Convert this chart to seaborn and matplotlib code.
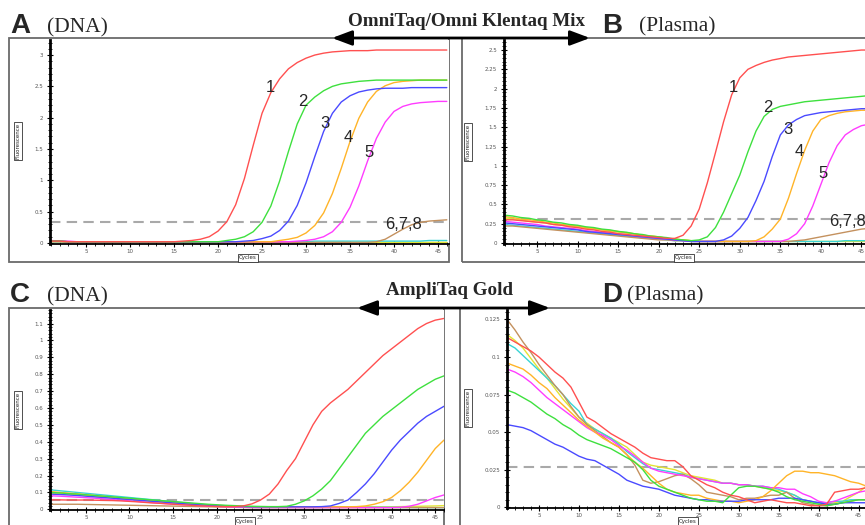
import matplotlib
matplotlib.use("Agg")
import matplotlib.pyplot as plt
from matplotlib.patches import Rectangle, FancyArrowPatch
import pandas as pd
import seaborn as sns

W, H = 865, 525
cycles = list(range(1, 47))
curve_order = ["yellow", "cyan", "brown", "magenta", "orange", "blue", "green", "red"]
palette = {"red": "#ff5050", "green": "#3ee03e", "blue": "#4a4aff", "orange": "#ffb428",
           "magenta": "#ff3cff", "brown": "#c4915e", "cyan": "#38d4d4", "yellow": "#e4e434"}
x_ticks = [5, 10, 15, 20, 25, 30, 35, 40, 45]
x_labels = ["5", "10", "15", "20", "25", "30", "35", "40", "45"]

# ---------------- Panel A (DNA, OmniTaq) ----------------
a_red = [0.03,0.03,0.02,0.02,0.02,0.02,0.02,0.02,0.02,0.02, 0.02,0.02,0.02,0.02,0.02,0.03,0.04,0.06,0.10,0.19,
         0.34,0.61,1.03,1.56,2.07,2.40,2.62,2.78,2.88,2.95, 3.00,3.03,3.05,3.06,3.07,3.07,3.07,3.08,3.08,3.08,
         3.08,3.08,3.08,3.08,3.08,3.08]
a_green = [0.03,0.03,0.02,0.02,0.02,0.02,0.02,0.02,0.02,0.02, 0.02,0.02,0.02,0.02,0.02,0.02,0.02,0.02,0.02,0.02,
           0.04,0.06,0.10,0.18,0.33,0.59,0.99,1.46,1.90,2.20, 2.33,2.43,2.50,2.54,2.56,2.58,2.59,2.60,2.60,2.60,
           2.60,2.60,2.60,2.60,2.60,2.60]
a_blue = [0.03,0.03,0.02,0.02,0.02,0.02,0.02,0.02,0.02,0.02, 0.02,0.02,0.02,0.02,0.02,0.02,0.02,0.02,0.02,0.02,
          0.02,0.02,0.03,0.04,0.07,0.11,0.20,0.35,0.60,0.96, 1.38,1.78,2.07,2.25,2.35,2.41,2.44,2.46,2.47,2.47,
          2.47,2.48,2.48,2.48,2.48,2.48]
a_orange = [0.03,0.03,0.02,0.02,0.02,0.02,0.02,0.02,0.02,0.02, 0.02,0.02,0.02,0.02,0.02,0.02,0.02,0.02,0.02,0.02,
            0.02,0.02,0.02,0.02,0.02,0.02,0.04,0.06,0.09,0.16, 0.28,0.48,0.79,1.19,1.62,1.99,2.25,2.42,2.51,2.56,
            2.58,2.59,2.60,2.60,2.60,2.60]
a_magenta = [0.04,0.03,0.03,0.02,0.02,0.02,0.02,0.02,0.02,0.02, 0.02,0.02,0.02,0.02,0.02,0.02,0.02,0.02,0.02,0.02,
             0.02,0.02,0.02,0.02,0.02,0.02,0.02,0.02,0.03,0.04, 0.06,0.10,0.18,0.33,0.57,0.91,1.31,1.67,1.93,2.10,
             2.18,2.22,2.24,2.25,2.26,2.26]
a_brown = [0.02,0.02,0.01,0.01,0.01,0.01,0.01,0.01,0.01,0.01, 0.01,0.01,0.01,0.01,0.01,0.01,0.01,0.01,0.01,0.01,
           0.01,0.01,0.01,0.01,0.01,0.01,0.01,0.01,0.01,0.01, 0.01,0.01,0.01,0.01,0.01,0.01,0.01,0.02,0.06,0.14,
           0.22,0.29,0.33,0.35,0.36,0.37]
a_cyan = [0.02,0.02,0.02,0.02,0.02,0.02,0.02,0.02,0.02,0.02, 0.02,0.02,0.02,0.02,0.02,0.02,0.02,0.02,0.02,0.02,
          0.02,0.02,0.02,0.02,0.02,0.02,0.02,0.02,0.02,0.02, 0.03,0.03,0.03,0.03,0.03,0.03,0.03,0.03,0.03,0.03,
          0.03,0.03,0.03,0.04,0.04,0.04]
a_yellow = [0.02,0.02,0.01,0.01,0.01,0.01,0.01,0.01,0.01,0.01, 0.01,0.01,0.01,0.01,0.01,0.01,0.01,0.01,0.01,0.01,
            0.01,0.01,0.01,0.01,0.01,0.01,0.01,0.01,0.01,0.01, 0.01,0.01,0.01,0.01,0.01,0.01,0.01,0.01,0.01,0.01,
            0.01,0.01,0.01,0.01,0.01,0.01]

# ---------------- Panel B (Plasma, OmniTaq) ----------------
b_red = [0.30,0.30,0.29,0.28,0.27,0.26,0.24,0.23,0.21,0.20, 0.18,0.17,0.15,0.14,0.12,0.11,0.10,0.09,0.08,0.07,
         0.06,0.06,0.10,0.22,0.44,0.78,1.17,1.57,1.92,2.14, 2.25,2.30,2.34,2.37,2.39,2.41,2.42,2.43,2.44,2.45,
         2.46,2.47,2.48,2.49,2.50,2.50]
b_green = [0.36,0.35,0.33,0.32,0.30,0.29,0.27,0.26,0.24,0.23, 0.21,0.20,0.18,0.17,0.15,0.14,0.12,0.11,0.09,0.08,
           0.07,0.05,0.04,0.03,0.04,0.08,0.20,0.40,0.64,0.88, 1.18,1.45,1.64,1.73,1.77,1.79,1.81,1.83,1.84,1.85,
           1.86,1.87,1.88,1.89,1.90,1.91]
b_blue = [0.26,0.25,0.24,0.23,0.22,0.21,0.20,0.19,0.18,0.17, 0.15,0.14,0.13,0.12,0.11,0.10,0.09,0.08,0.07,0.06,
          0.05,0.04,0.03,0.02,0.02,0.02,0.02,0.04,0.09,0.19, 0.33,0.55,0.80,1.12,1.40,1.53,1.60,1.65,1.67,1.69,
          1.70,1.71,1.72,1.73,1.74,1.74]
b_orange = [0.34,0.33,0.31,0.30,0.29,0.27,0.26,0.24,0.23,0.22, 0.20,0.19,0.17,0.16,0.15,0.13,0.12,0.10,0.09,0.08,
            0.06,0.05,0.04,0.03,0.02,0.02,0.02,0.02,0.02,0.02, 0.02,0.03,0.08,0.18,0.31,0.58,0.90,1.20,1.45,1.60,
            1.65,1.68,1.70,1.71,1.72,1.72]
b_magenta = [0.28,0.27,0.26,0.25,0.24,0.22,0.21,0.20,0.19,0.18, 0.16,0.15,0.14,0.13,0.12,0.11,0.09,0.08,0.07,0.06,
             0.05,0.04,0.03,0.02,0.02,0.02,0.02,0.02,0.02,0.02, 0.02,0.02,0.02,0.02,0.02,0.05,0.12,0.25,0.48,0.76,
             1.04,1.26,1.40,1.47,1.52,1.54]
b_brown = [0.22,0.22,0.21,0.20,0.19,0.18,0.17,0.16,0.15,0.14, 0.13,0.12,0.11,0.10,0.09,0.08,0.07,0.06,0.05,0.04,
           0.04,0.03,0.03,0.02,0.02,0.02,0.02,0.02,0.02,0.02, 0.02,0.02,0.02,0.02,0.02,0.02,0.03,0.04,0.06,0.08,
           0.10,0.12,0.14,0.16,0.18,0.19]
b_cyan = [0.24,0.23,0.22,0.21,0.20,0.19,0.18,0.17,0.16,0.15, 0.14,0.13,0.12,0.11,0.10,0.09,0.08,0.07,0.06,0.05,
          0.04,0.03,0.03,0.02,0.02,0.02,0.02,0.02,0.02,0.02, 0.02,0.02,0.02,0.02,0.02,0.02,0.02,0.02,0.02,0.02,
          0.02,0.02,0.03,0.03,0.03,0.03]
b_yellow = [0.32,0.31,0.30,0.28,0.27,0.26,0.24,0.23,0.22,0.21, 0.19,0.18,0.17,0.15,0.14,0.13,0.12,0.10,0.09,0.08,
            0.06,0.05,0.04,0.03,0.02,0.02,0.02,0.02,0.02,0.02, 0.02,0.02,0.02,0.02,0.02,0.02,0.02,0.02,0.02,0.02,
            0.02,0.02,0.02,0.02,0.02,0.02]

# ---------------- Panel C (DNA, AmpliTaq Gold) ----------------
c_red = [0.056,0.056,0.055,0.055,0.055,0.054,0.053,0.052,0.050,0.047, 0.044,0.040,0.037,0.034,0.030,0.027,0.024,0.021,0.019,0.017,
         0.016,0.016,0.020,0.032,0.055,0.09,0.15,0.23,0.30,0.40, 0.50,0.58,0.63,0.67,0.71,0.76,0.81,0.86,0.91,0.95,
         0.99,1.03,1.07,1.10,1.12,1.13]
c_green = [0.100,0.097,0.093,0.090,0.086,0.082,0.078,0.074,0.070,0.066, 0.062,0.058,0.054,0.050,0.046,0.042,0.038,0.034,0.030,0.027,
           0.024,0.022,0.020,0.018,0.017,0.016,0.016,0.018,0.030,0.050, 0.08,0.12,0.17,0.24,0.31,0.38,0.45,0.50,0.55,0.59,
           0.63,0.67,0.71,0.74,0.77,0.79]
c_blue = [0.090,0.088,0.085,0.082,0.078,0.074,0.070,0.066,0.062,0.058, 0.054,0.050,0.046,0.042,0.038,0.034,0.030,0.027,0.024,0.021,
          0.019,0.017,0.016,0.015,0.015,0.015,0.015,0.015,0.015,0.015, 0.015,0.016,0.020,0.035,0.055,0.10,0.15,0.21,0.28,0.35,
          0.41,0.46,0.51,0.55,0.58,0.61]
c_orange = [0.105,0.100,0.096,0.092,0.087,0.082,0.077,0.072,0.067,0.062, 0.057,0.052,0.047,0.043,0.039,0.035,0.031,0.027,0.024,0.021,
            0.019,0.017,0.016,0.015,0.015,0.015,0.015,0.015,0.015,0.015, 0.015,0.015,0.015,0.015,0.015,0.016,0.020,0.030,0.045,0.07,
            0.11,0.16,0.22,0.29,0.36,0.41]
c_magenta = [0.080,0.078,0.075,0.072,0.069,0.066,0.062,0.058,0.054,0.050, 0.046,0.042,0.038,0.034,0.031,0.028,0.025,0.022,0.019,0.017,
             0.015,0.013,0.012,0.011,0.010,0.010,0.010,0.010,0.010,0.010, 0.010,0.010,0.010,0.010,0.010,0.010,0.010,0.010,0.010,0.010,
             0.012,0.018,0.030,0.050,0.070,0.085]
c_brown = [0.030,0.030,0.030,0.030,0.029,0.028,0.027,0.026,0.025,0.024, 0.023,0.022,0.021,0.020,0.019,0.018,0.017,0.016,0.015,0.014,
           0.013,0.012,0.011,0.010,0.010,0.010,0.010,0.010,0.010,0.010, 0.010,0.010,0.010,0.010,0.010,0.010,0.010,0.010,0.010,0.010,
           0.010,0.010,0.010,0.010,0.010,0.010]
c_cyan = [0.115,0.110,0.105,0.100,0.095,0.090,0.085,0.080,0.075,0.070, 0.065,0.060,0.055,0.050,0.045,0.040,0.035,0.030,0.025,0.020,
          0.018,0.016,0.014,0.013,0.012,0.012,0.012,0.012,0.012,0.012, 0.012,0.012,0.012,0.012,0.012,0.012,0.012,0.012,0.012,0.012,
          0.011,0.011,0.010,0.010,0.010,0.010]
c_yellow = [0.095,0.092,0.089,0.085,0.081,0.077,0.073,0.069,0.065,0.061, 0.057,0.053,0.049,0.045,0.041,0.037,0.033,0.030,0.027,0.024,
            0.021,0.019,0.017,0.016,0.015,0.015,0.015,0.015,0.015,0.015, 0.015,0.015,0.015,0.015,0.015,0.015,0.015,0.015,0.015,0.015,
            0.016,0.017,0.018,0.019,0.020,0.022]

# ---------------- Panel D (Plasma, AmpliTaq Gold) ----------------
d_brown = [0.125,0.118,0.110,0.103,0.095,0.088,0.081,0.075,0.067,0.060, 0.055,0.051,0.047,0.043,0.040,0.035,0.028,0.018,0.016,0.017,
           0.019,0.021,0.022,0.019,0.015,0.010,0.009,0.008,0.007,0.005, 0.006,0.006,0.007,0.008,0.008,0.010,0.006,0.003,0.002,0.001,
           0.001,0.002,0.003,0.004,0.005,0.005]
d_red = [0.113,0.110,0.107,0.104,0.100,0.095,0.090,0.086,0.080,0.070, 0.060,0.057,0.053,0.049,0.046,0.043,0.040,0.036,0.033,0.032,
         0.031,0.031,0.027,0.021,0.018,0.015,0.013,0.010,0.008,0.007, 0.005,0.003,0.004,0.005,0.004,0.003,0.003,0.002,0.001,0.001,
         0.002,0.010,0.011,0.012,0.012,0.013]
d_yellow = [0.115,0.111,0.106,0.099,0.092,0.086,0.079,0.072,0.066,0.060, 0.056,0.052,0.049,0.046,0.043,0.040,0.035,0.030,0.028,0.027,
            0.026,0.025,0.023,0.021,0.020,0.019,0.018,0.016,0.016,0.015, 0.015,0.014,0.013,0.012,0.011,0.010,0.008,0.005,0.004,0.002,
            0.002,0.003,0.004,0.007,0.010,0.014]
d_cyan = [0.109,0.106,0.101,0.096,0.091,0.086,0.081,0.075,0.069,0.064, 0.055,0.052,0.049,0.046,0.042,0.037,0.033,0.029,0.026,0.025,
          0.024,0.023,0.022,0.020,0.019,0.018,0.017,0.016,0.016,0.015, 0.015,0.014,0.014,0.013,0.012,0.010,0.008,0.005,0.004,0.003,
          0.003,0.004,0.004,0.005,0.005,0.005]
d_orange = [0.096,0.094,0.092,0.088,0.083,0.079,0.073,0.068,0.063,0.058, 0.054,0.050,0.046,0.043,0.040,0.035,0.030,0.026,0.021,0.016,
            0.012,0.010,0.009,0.008,0.008,0.006,0.005,0.004,0.004,0.003, 0.004,0.005,0.007,0.011,0.016,0.021,0.024,0.024,0.023,0.023,
            0.022,0.021,0.019,0.017,0.016,0.014]
d_magenta = [0.092,0.090,0.087,0.083,0.078,0.073,0.069,0.065,0.061,0.057, 0.053,0.050,0.048,0.045,0.041,0.038,0.034,0.030,0.026,0.024,
             0.023,0.022,0.021,0.020,0.019,0.018,0.017,0.016,0.016,0.015, 0.015,0.014,0.014,0.013,0.013,0.012,0.012,0.009,0.007,0.004,
             0.003,0.004,0.006,0.008,0.010,0.011]
d_green = [0.078,0.076,0.073,0.070,0.066,0.062,0.059,0.055,0.052,0.048, 0.045,0.043,0.041,0.039,0.036,0.033,0.030,0.025,0.018,0.014,
           0.012,0.010,0.008,0.006,0.005,0.004,0.004,0.003,0.008,0.013, 0.014,0.014,0.013,0.012,0.010,0.007,0.005,0.004,0.003,0.002,
           0.001,0.002,0.003,0.004,0.005,0.005]
d_blue = [0.055,0.054,0.053,0.051,0.048,0.045,0.042,0.040,0.037,0.034, 0.032,0.031,0.028,0.025,0.022,0.018,0.016,0.014,0.013,0.012,
          0.010,0.008,0.007,0.006,0.005,0.005,0.004,0.004,0.004,0.004, 0.005,0.005,0.005,0.005,0.006,0.006,0.006,0.005,0.004,0.003,
          0.002,0.002,0.003,0.003,0.003,0.003]

thresholds = {"A": 0.33, "B": 0.31, "C": 0.055, "D": 0.027}

sns.set_style("white")
plt.rcParams["font.family"] = ["DejaVu Sans"]

fig = plt.figure(figsize=(W / 100, H / 100), dpi=100)
fig.patch.set_facecolor("white")


def fx(px):
    return px / W


def fy(py):
    return 1 - py / H


def make_axes(left, right, top, bottom):
    return fig.add_axes([fx(left), fy(bottom), (right - left) / W, (bottom - top) / H])


def draw_panel(ax, series, xlim, ylim, yticks, ylabels, yminor, thr):
    frames = [pd.DataFrame({"cycle": cycles, "value": vals, "curve": name}) for name, vals in series.items()]
    df = pd.concat(frames, ignore_index=True)
    ax.axhline(thr, color="#a9a9a9", lw=1.5, linestyle=(0, (5, 3)), zorder=1)
    sns.lineplot(data=df, x="cycle", y="value", hue="curve", hue_order=curve_order,
                 palette=palette, estimator=None, sort=True, legend=False,
                 linewidth=1.0, ax=ax, zorder=2)
    ax.set_xlim(*xlim)
    ax.set_ylim(*ylim)
    ax.set_xlabel("")
    ax.set_ylabel("")
    ax.set_facecolor("white")
    ax.set_xticks(x_ticks)
    ax.set_xticklabels(x_labels)
    ax.set_xticks(cycles, minor=True)
    ax.set_yticks(yticks)
    ax.set_yticklabels(ylabels)
    ax.set_yticks(yminor, minor=True)
    for s in ["top", "right"]:
        ax.spines[s].set_visible(False)
    ax.spines["left"].set_color("black")
    ax.spines["left"].set_linewidth(2.0)
    ax.spines["bottom"].set_color("black")
    ax.spines["bottom"].set_linewidth(1.3)
    ax.tick_params(which="major", direction="inout", length=4, width=0.8, color="black",
                   labelsize=4, labelcolor="#555555", pad=3, left=True, bottom=True)
    ax.tick_params(axis="x", which="major", pad=1.5)
    ax.tick_params(which="minor", direction="inout", length=2.2, width=0.6, color="black",
                   left=True, bottom=True)
    ax.grid(False)


def box(x0, y0, x1, y1):
    fig.add_artist(Rectangle((fx(x0), fy(y1)), (x1 - x0) / W, (y1 - y0) / H,
                             transform=fig.transFigure, fill=False, ec="#6a6a6a", lw=1.3, zorder=0))


def boxed_label(x, y, text, rot):
    fig.text(fx(x), fy(y), text, rotation=rot, fontsize=4, ha="center", va="center", color="#222222",
             bbox=dict(boxstyle="square,pad=0.2", fc="white", ec="#333333", lw=0.6))


# panel boxes
box(9, 38, 449, 262)
box(462, 38, 900, 262)
box(9, 308, 444, 540)
box(460, 308, 900, 540)

# Panel A
axA = make_axes(50, 449, 40, 244)
draw_panel(axA, {"red": a_red, "green": a_green, "blue": a_blue, "orange": a_orange,
                 "magenta": a_magenta, "brown": a_brown, "cyan": a_cyan, "yellow": a_yellow},
           (0.9, 46.25), (-0.016, 3.24), [0, 0.5, 1, 1.5, 2, 2.5, 3],
           ["0", "0.5", "1", "1.5", "2", "2.5", "3"], [i * 0.1 for i in range(33)], thresholds["A"])

# Panel B
axB = make_axes(504, 872, 40, 244)
draw_panel(axB, {"red": b_red, "green": b_green, "blue": b_blue, "orange": b_orange,
                 "magenta": b_magenta, "brown": b_brown, "cyan": b_cyan, "yellow": b_yellow},
           (0.93, 46.3), (-0.013, 2.63), [0, 0.25, 0.5, 0.75, 1, 1.25, 1.5, 1.75, 2, 2.25, 2.5],
           ["0", "0.25", "0.5", "0.75", "1", "1.25", "1.5", "1.75", "2", "2.25", "2.5"],
           [i * 0.05 for i in range(53)], thresholds["B"])

# Panel C
axC = make_axes(50, 444, 310, 510)
draw_panel(axC, {"red": c_red, "green": c_green, "blue": c_blue, "orange": c_orange,
                 "magenta": c_magenta, "brown": c_brown, "cyan": c_cyan, "yellow": c_yellow},
           (0.9, 45.8), (-0.004, 1.18), [i / 10 for i in range(12)],
           ["0", "0.1", "0.2", "0.3", "0.4", "0.5", "0.6", "0.7", "0.8", "0.9", "1", "1.1"],
           [i * 0.02 for i in range(60)], thresholds["C"])

# Panel D
axD = make_axes(507, 869, 310, 508)
draw_panel(axD, {"red": d_red, "green": d_green, "blue": d_blue, "orange": d_orange,
                 "magenta": d_magenta, "brown": d_brown, "cyan": d_cyan, "yellow": d_yellow},
           (1.0, 46.3), (-0.0005, 0.1313), [0, 0.025, 0.05, 0.075, 0.1, 0.125],
           ["0", "0.025", "0.05", "0.075", "0.1", "0.125"],
           [i * 0.005 for i in range(27)], thresholds["D"])

# axis captions (boxed, as in the instrument software)
boxed_label(18, 141, "Fluorescence", 90)
boxed_label(468, 142, "Fluorescence", 90)
boxed_label(18, 410, "Fluorescence", 90)
boxed_label(468, 408, "Fluorescence", 90)
boxed_label(248, 258, "Cycles", 0)
boxed_label(684, 258, "Cycles", 0)
boxed_label(245, 521, "Cycles", 0)
boxed_label(688, 521, "Cycles", 0)

# panel letters and sample types
letter_kw = dict(fontsize=20, fontweight="bold", family="Liberation Sans", ha="left", va="baseline")
sub_kw = dict(fontsize=15.5, family="Liberation Serif", ha="left", va="baseline")
fig.text(fx(10), fy(33), "A", **letter_kw)
fig.text(fx(47), fy(32), "(DNA)", **sub_kw)
fig.text(fx(602), fy(33), "B", **letter_kw)
fig.text(fx(639), fy(31), "(Plasma)", **sub_kw)
fig.text(fx(10), fy(302), "C", **letter_kw)
fig.text(fx(47), fy(301), "(DNA)", **sub_kw)
fig.text(fx(602), fy(302), "D", **letter_kw)
fig.text(fx(627), fy(300), "(Plasma)", **sub_kw)

# enzyme titles with double arrows
title_kw = dict(fontsize=13.7, fontweight="bold", family="Liberation Serif", ha="center", va="baseline")
fig.text(fx(467), fy(26), "OmniTaq/Omni Klentaq Mix", **title_kw)
fig.text(fx(450), fy(295), "AmpliTaq Gold", **title_kw)
arrow_kw = dict(arrowstyle="<|-|>,head_length=1.2,head_width=0.45", color="black", lw=2.0,
                shrinkA=0, shrinkB=0)
fig.add_artist(FancyArrowPatch((fx(332), fy(38)), (fx(590), fy(38)),
                               transform=fig.transFigure, mutation_scale=10, **arrow_kw))
fig.add_artist(FancyArrowPatch((fx(357), fy(308)), (fx(550), fy(308)),
                               transform=fig.transFigure, mutation_scale=10, **arrow_kw))

# curve numbers
num_kw = dict(fontsize=12, family="Liberation Sans", ha="center", va="center")
for txt, px, py in [("1", 270, 88), ("2", 303, 102), ("3", 325, 123), ("4", 348, 137), ("5", 369, 153),
                    ("6,7,8", 404, 224),
                    ("1", 733, 87), ("2", 768, 108), ("3", 788, 130), ("4", 799, 152), ("5", 823, 173),
                    ("6,7,8", 847, 221)]:
    fig.text(fx(px), fy(py), txt, **num_kw)

fig.savefig("out.png", dpi=100, facecolor="white")
